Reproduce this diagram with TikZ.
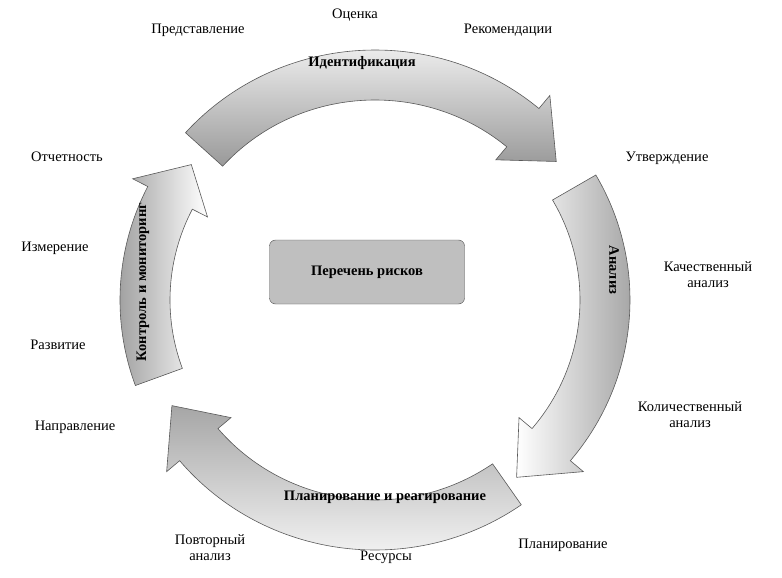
\documentclass[tikz,border=0pt]{standalone}
\usepackage{fontspec}
\setmainfont{Liberation Serif}
\usetikzlibrary{calc}
\begin{document}
\begin{tikzpicture}[x=1pt,y=1pt,
  arr/.style={draw=black!65,line width=0.6pt},
  lbl/.style={font=\fontsize{14.5}{16}\selectfont,align=center,inner sep=1pt},
  albl/.style={font=\fontsize{14.5}{16}\selectfont\bfseries,inner sep=1pt}]
\useasboundingbox (0,0) rectangle (782,-578);
\coordinate (C) at (375,-300);
\newcommand\arrowseg[4]{%
 \path[arr,#4] ($(C)+(#1:255 and 250)$) arc[start angle=#1,end angle=#2,x radius=255,y radius=250]
  -- ($(C)+(#2:272 and 267)$) -- ($(C)+(#3:230 and 225)$) -- ($(C)+(#2:188 and 183)$)
  -- ($(C)+(#2:205 and 200)$) arc[start angle=#2,end angle=#1,x radius=205,y radius=200] -- cycle;}
\arrowseg{138}{50}{38}{top color=white,bottom color=black!40}
\arrowseg{30}{-40}{-52}{left color=white,right color=black!40}
\arrowseg{-55}{-140}{-152}{top color=black!35,bottom color=white}
\arrowseg{-160}{-207}{-217}{left color=black!40,right color=white}
\node[fill=black!25,draw=black!70,rounded corners=6pt,minimum width=195,minimum height=64,font=\fontsize{14.5}{16}\selectfont\bfseries] (list) at (367,-272) {Перечень рисков};
\node[albl] (id) at (362,-63) {Идентификация};
\node[albl,rotate=-90] (an) at (614,-270) {Анализ};
\node[albl] (pl) at (385,-497) {Планирование и реагирование};
\node[albl,rotate=90] (km) at (143,-282) {Контроль и мониторинг};
\node[lbl] (t1) at (198,-30) {Представление};
\node[lbl] (t2) at (355,-15) {Оценка};
\node[lbl] (t3) at (508,-30) {Рекомендации};
\node[lbl] (t4) at (667,-158) {Утверждение};
\node[lbl] (t5) at (708,-275) {Качественный\\анализ};
\node[lbl] (t6) at (690,-415) {Количественный\\анализ};
\node[lbl] (t7) at (563,-545) {Планирование};
\node[lbl] (t8) at (386,-557) {Ресурсы};
\node[lbl] (t9) at (210,-548) {Повторный\\анализ};
\node[lbl] (t10) at (75,-427) {Направление};
\node[lbl] (t11) at (58,-345) {Развитие};
\node[lbl] (t12) at (55,-248) {Измерение};
\node[lbl] (t13) at (67,-157) {Отчетность};
\end{tikzpicture}
\end{document}
